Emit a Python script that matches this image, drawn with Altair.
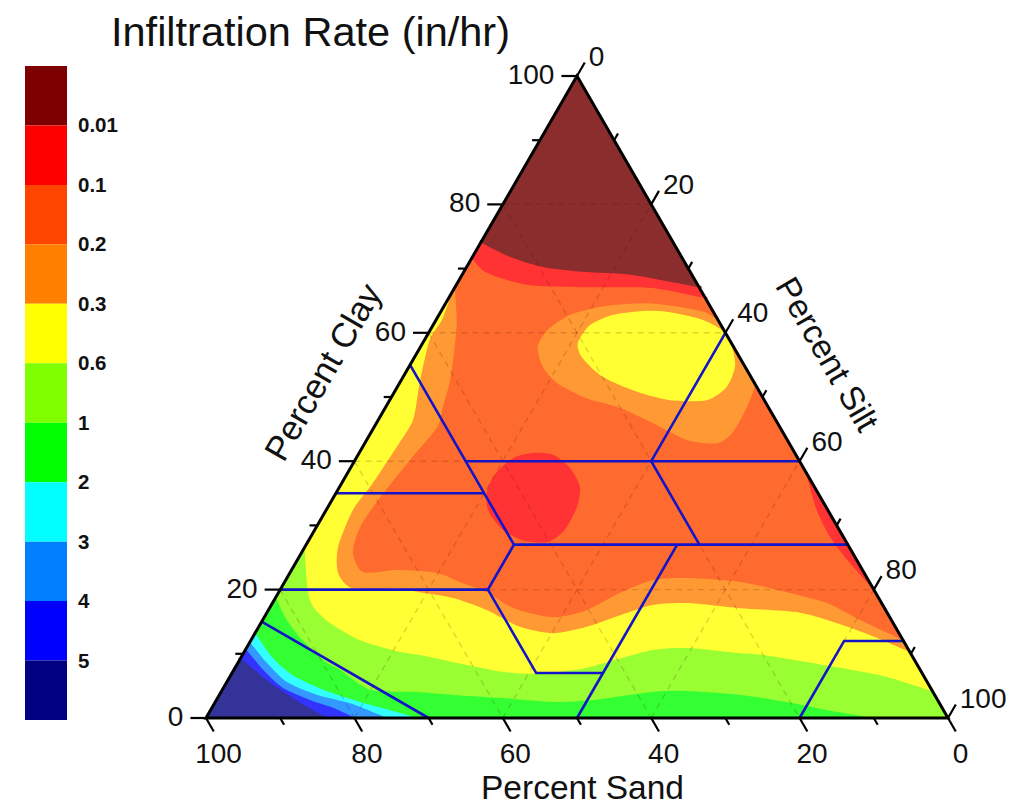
import altair as alt
import pandas as pd

FONT = "Liberation Sans"
W, H = 1009, 798

# ---- legend
legend_colors = ["#7F0000", "#FF0000", "#FF4500", "#FF8000", "#FFFF00", "#80FF00",
                 "#00FF00", "#00FFFF", "#0080FF", "#0000FF", "#000080"]
legend_labels = ["0.01", "0.1", "0.2", "0.3", "0.6", "1", "2", "3", "4", "5"]

# ---- contour bands: (sand %, clay %) along each band's boundary
C_LIME = "#99FF33"; C_GREEN = "#33FF33"; C_CYAN = "#33FFFF"; C_LTBLUE = "#3399FF"
C_BLUE = "#3333FF"; C_NAVY = "#333399"; C_YELLOW = "#FFFF33"; C_ORANGE = "#FF9933"
C_OR = "#FF6B2E"; C_RED = "#FF3333"; C_DARK = "#8B2D2D"

whole_sand = [100, 0, 0]
whole_clay = [0, 0, 100]

green_sand = [81.2, 81.5, 81.05, 79.7, 78.2, 75.7, 69.6, 64.9, 58.4, 52, 46.4, 37.8, 33.1, 26.2, 20.5, 15.7, 10.1, 100]
green_clay = [18.8, 15.7, 12.5, 9, 7.5, 4.4, 4.05, 3.6, 3.1, 2.5, 2.8, 4.05, 4.2, 3.6, 2.5, 1.25, 0, 0]

cyan_sand = [86.8, 86.35, 85, 82, 78, 74.6, 71.6, 100]
cyan_clay = [13.2, 9.5, 6.7, 4.4, 2.5, 1.25, 0, 0]

ltblue_sand = [88.2, 87.5, 86.3, 83.2, 79.4, 75.6, 100]
ltblue_clay = [11.8, 8.6, 5.6, 3.6, 2.3, 0, 0]

blue_sand = [89.3, 88.55, 87.3, 84.6, 82.1, 79.9, 100]
blue_clay = [10.7, 7.5, 4.7, 2.8, 1.6, 0, 0]

navy_sand = [90.7, 88.85, 86.75, 85, 83.6, 100]
navy_clay = [9.3, 5.9, 3.1, 1.25, 0, 0]

yellow_sand = [73.4, 74.8, 76.5, 76.9, 75.9, 73.2, 68.8, 66.3, 62.3, 56.4, 52.2, 46.3, 41.6, 34.5, 29.7, 23, 20, 11, 5, 0, 0]
yellow_clay = [26.6, 23.5, 19.5, 17.2, 14.8, 12.1, 10.3, 9.8, 8.7, 7.2, 6.9, 7.5, 8.7, 10.6, 10.9, 10.1, 9.8, 7.9, 6.4, 4.2, 100]

orange_sand = [33.6, 37.2, 40.4, 45.1, 48.9, 53.2, 59.2, 64, 68.9, 70.9, 70.1, 63.85, 61.4, 57.35, 53.7, 50.6, 46.6, 41.6, 36.2, 31, 26.25, 19.45, 11.75, 7, 3.35, 0, 0]
orange_clay = [66.4, 62, 58.9, 52.2, 46.4, 42.2, 36.6, 32.4, 26.6, 22.6, 20.2, 20.1, 19.6, 18.7, 16.8, 14.2, 13.2, 14.2, 16, 17.6, 17.9, 17.1, 16.4, 14.5, 12.5, 10.3, 100]

orangered_sand = [32.9, 35.2, 37.4, 40.8, 43.9, 46.2, 52.4, 59.3, 64.3, 67.35, 67.45, 62.75, 57.6, 54.9, 52.3, 50, 45.35, 40.3, 34.45, 29, 24.3, 17.4, 11.9, 7.35, 4.25, 0, 0]
orangered_clay = [67.1, 62, 58.1, 52.6, 48.4, 45.3, 40.2, 34.4, 29.8, 25.7, 22.7, 23.05, 22.6, 21, 19.6, 17.1, 15.7, 16.8, 19.5, 21.5, 21.8, 21.2, 19.6, 17.9, 15.3, 12.15, 100]

orange_isle_sand = [26.4, 27.25, 26.6, 23.8, 20.05, 16.8, 13.55, 9.7, 6.75, 2.9, 0, 0, 0.95, 4.1, 8.3, 13.9, 19.5, 23.8]
orange_isle_clay = [57.8, 54.7, 52.2, 49.8, 48.3, 45.95, 43.3, 42.8, 44.5, 48.4, 51.9, 61.7, 63.1, 64, 64.6, 64.2, 62.8, 60.4]

yellow_isle_sand = [20.7, 21.25, 19.95, 16.5, 12.75, 7.75, 4, 1.35, 0.35, 0, 2, 5.9, 9.4, 13.7, 17.65]
yellow_isle_clay = [58.4, 56.1, 53.1, 50.8, 49.5, 49.5, 51.6, 54.7, 57.3, 60, 62, 63.2, 63.4, 62.8, 61.2]

red_patch_sand = [44.35, 45.8, 45.35, 43.45, 40.3, 37, 33.55, 31.6, 31.45, 32.7, 35.25, 38.35, 41.65]
red_patch_clay = [35.5, 32.4, 29.3, 27.7, 27.4, 29.3, 32.9, 36, 38.9, 41, 41.3, 40.5, 38.3]

red_sliver_sand = [0, 0.25, 1.5, 1.8, 1.15, 0]
red_sliver_clay = [39.7, 37.5, 32.4, 28.2, 24.1, 19.9]

red_top_sand = [28.35, 27.45, 22.9, 15.65, 6.7, 0, 0]
red_top_clay = [71.65, 69.3, 67.45, 67.1, 67, 65.4, 100]

dark_sand = [25.9, 23.1, 19.5, 14.45, 8, 0, 0]
dark_clay = [74.1, 71.8, 70.25, 69.5, 69, 67.1, 100]

bands = [
    (whole_sand, whole_clay, C_LIME),
    (green_sand, green_clay, C_GREEN),
    (cyan_sand, cyan_clay, C_CYAN),
    (ltblue_sand, ltblue_clay, C_LTBLUE),
    (blue_sand, blue_clay, C_BLUE),
    (navy_sand, navy_clay, C_NAVY),
    (yellow_sand, yellow_clay, C_YELLOW),
    (orange_sand, orange_clay, C_ORANGE),
    (orangered_sand, orangered_clay, C_OR),
    (orange_isle_sand, orange_isle_clay, C_ORANGE),
    (yellow_isle_sand, yellow_isle_clay, C_YELLOW),
    (red_patch_sand, red_patch_clay, C_RED),
    (red_sliver_sand, red_sliver_clay, C_RED),
    (red_top_sand, red_top_clay, C_RED),
    (dark_sand, dark_clay, C_DARK),
]

# ---- soil-texture class lines: (sand %, clay %)
class_paths = [
    ([85, 70], [15, 0]),
    ([45, 45, 45, 52, 52, 43], [55, 35, 27, 20, 7, 7]),
    ([65, 45], [35, 35]),
    ([45, 0], [40, 40]),
    ([45, 0], [27, 27]),
    ([80, 52], [20, 20]),
    ([0, 20, 20], [60, 40, 27]),
    ([23, 50], [27, 0]),
    ([0, 8, 20], [12, 12, 0]),
]

major_ticks = [0, 20, 40, 60, 80, 100]
minor_ticks = [10, 30, 50, 70, 90]
grid_ticks = [20, 40, 60, 80]


def hpos(sand, clay):
    return 100 - sand - clay / 2


def pin_edges(sand, clay):
    """Keep the smooth boundary curve flat where a band runs along a side of the triangle."""
    out = []
    n = len(sand)
    for i in range(n):
        a = (sand[i], clay[i])
        b = (sand[(i + 1) % n], clay[(i + 1) % n])
        out.append(a)
        same_side = (a[0] == b[0] == 0) or (a[1] == b[1] == 0) or (abs(100 - a[0] - a[1]) < 1e-6 and abs(100 - b[0] - b[1]) < 1e-6)
        if same_side:
            d = max(abs(a[0] - b[0]), abs(a[1] - b[1]))
            steps = []
            t = 0.5
            while t < d / 2:
                steps.append(t)
                t *= 2
            for t in steps:
                out.append((a[0] + (b[0] - a[0]) * t / d, a[1] + (b[1] - a[1]) * t / d))
            for t in reversed(steps):
                out.append((b[0] + (a[0] - b[0]) * t / d, b[1] + (a[1] - b[1]) * t / d))
    return [p[0] for p in out], [p[1] for p in out]


# Scales: plot area is W x H; triangle spans 100 units on each axis
X_DOM = [-198 / 7.42, (W - 198) / 7.42]
Y_DOM = [-(H - 710) / 6.42, 710 / 6.42]
xs = alt.Scale(domain=X_DOM, nice=False, zero=False)
ys = alt.Scale(domain=Y_DOM, nice=False, zero=False)
X = alt.X("x:Q", scale=xs, axis=None)
Y = alt.Y("y:Q", scale=ys, axis=None)


def poly(sand, clay, color):
    if len(sand) > 3:
        sand, clay = pin_edges(sand, clay)
        interp = "cardinal-closed"
    else:
        interp = "linear-closed"
    df = pd.DataFrame({"x": [hpos(s, c) for s, c in zip(sand, clay)], "y": clay})
    df["i"] = range(len(df))
    return alt.Chart(df).mark_line(fill=color, strokeWidth=0,
                                   interpolate=interp, tension=0.25).encode(x=X, y=Y, order="i:Q")


layers = [poly(*b) for b in bands]

# grid
rows = []
for v in grid_ticks:
    rows.append((100 - v, v, 0, v))
    rows.append((v, 100 - v, v, 0))
    rows.append((100 - v, 0, 0, 100 - v))
grid = pd.DataFrame([{"x": hpos(a, b), "y": b, "x2": hpos(c, d), "y2": d} for a, b, c, d in rows])
layers.append(alt.Chart(grid).mark_rule(color="#400000", opacity=0.17, strokeWidth=1.4,
                                        strokeDash=[6, 5]).encode(x=X, y=Y, x2="x2:Q", y2="y2:Q"))

# class lines
prow = []
for k, (ss, cc) in enumerate(class_paths):
    for i, (s, c) in enumerate(zip(ss, cc)):
        prow.append({"k": k, "i": i, "x": hpos(s, c), "y": c})
layers.append(alt.Chart(pd.DataFrame(prow)).mark_line(color="#1414C8", strokeWidth=2.6).encode(
    x=X, y=Y, detail="k:N", order="i:Q"))

# outline
out = pd.DataFrame({"x": [hpos(s, c) for s, c in zip(whole_sand, whole_clay)], "y": whole_clay})
out["i"] = range(3)
layers.append(alt.Chart(out).mark_line(color="#000000", strokeWidth=3, interpolate="linear-closed").encode(
    x=X, y=Y, order="i:Q"))

# ticks
trow = []
for v, ln in [(t, 2.1) for t in major_ticks] + [(t, 1.05) for t in minor_ticks]:
    trow.append({"x": hpos(100 - v, v), "y": v, "x2": hpos(100 - v + ln, v), "y2": v})
    trow.append({"x": hpos(v, 0), "y": 0, "x2": hpos(v, -ln), "y2": -ln})
    trow.append({"x": hpos(0, 100 - v), "y": 100 - v, "x2": hpos(-ln, 100 - v + ln), "y2": 100 - v + ln})
layers.append(alt.Chart(pd.DataFrame(trow)).mark_rule(color="#000000", strokeWidth=2.2).encode(
    x=X, y=Y, x2="x2:Q", y2="y2:Q"))

# tick labels
clay_lab = pd.DataFrame([{"x": hpos(100 - v + 2.1, v), "y": v, "t": str(v)} for v in major_ticks])
sand_lab = pd.DataFrame([{"x": hpos(v, 0), "y": -2.1, "t": str(v)} for v in major_ticks])
silt_lab = pd.DataFrame([{"x": hpos(-2.1, 100 - v + 2.1), "y": 100 - v + 2.1, "t": str(v)} for v in major_ticks])
layers.append(alt.Chart(clay_lab).mark_text(font=FONT, fontSize=28, align="right", baseline="middle", dx=-7, color="#111111").encode(x=X, y=Y, text="t:N"))
layers.append(alt.Chart(sand_lab).mark_text(font=FONT, fontSize=28, align="center", baseline="alphabetic", dx=12.5, dy=32, color="#111111").encode(x=X, y=Y, text="t:N"))
layers.append(alt.Chart(silt_lab).mark_text(font=FONT, fontSize=28, align="left", baseline="alphabetic", dx=4, dy=3, color="#111111").encode(x=X, y=Y, text="t:N"))

# titles
titles = [
    ("Infiltration Rate (in/hr)", 103, 37.5, 0, "left", 41.5),
    ("Percent Sand", 574.5, 790.5, 0, "center", 33.5),
    ("Percent Clay", 316.5, 365, -60, "center", 34.5),
    ("Percent Silt", 818, 347, 60, "center", 33.5),
]
for t, px, py, ang, al, fs in titles:
    base = "alphabetic" if ang == 0 else "middle"
    layers.append(alt.Chart(pd.DataFrame({"t": [t]})).mark_text(
        font=FONT, fontSize=fs, align=al, baseline=base, angle=(ang + 360) % 360, color="#111111"
    ).encode(x=alt.value(px), y=alt.value(py), text="t:N"))

main = alt.layer(*layers)

# legend bar
leg_scale = alt.Scale(domain=list(range(len(legend_colors))), range=[58, 712], paddingInner=0, paddingOuter=0)
leg_df = pd.DataFrame({"band": range(len(legend_colors)), "c": legend_colors})
lab_df = pd.DataFrame({"band": range(1, len(legend_labels) + 1), "t": legend_labels})
leg_rect = alt.Chart(leg_df).mark_rect().encode(
    x=alt.value(17), x2=alt.value(59),
    y=alt.Y("band:O", scale=leg_scale, axis=None),
    fill=alt.Fill("c:N", scale=None),
)
leg_text = alt.Chart(lab_df).mark_text(font=FONT, fontSize=20.5, fontWeight="bold", align="left",
                                       baseline="middle", dy=1, color="#111111").encode(
    x=alt.value(70),
    y=alt.Y("band:O", scale=leg_scale, axis=None, bandPosition=0),
    text="t:N",
)
legend = alt.layer(leg_rect, leg_text)

chart = alt.layer(main, legend).resolve_scale(x="independent", y="independent").properties(
    width=W, height=H, padding=0, autosize=alt.AutoSizeParams(type="none"),
    background="white",
).configure_view(stroke=None)

chart.save("out.html", embed_options={"renderer": "svg", "actions": False})
